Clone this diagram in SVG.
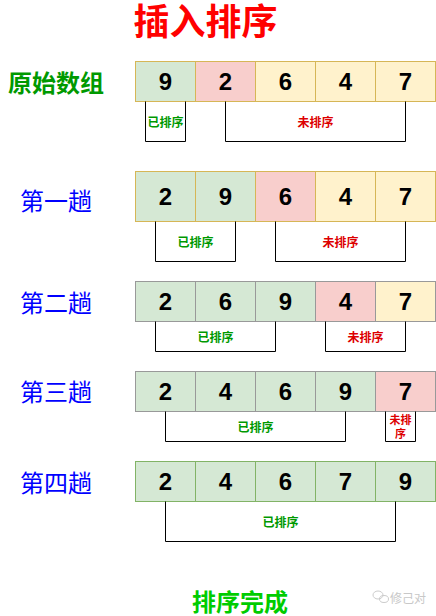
<svg xmlns="http://www.w3.org/2000/svg" width="436" height="616" viewBox="0 0 436 616">
<style>
.g{fill:#d5e8d4}.r{fill:#f8cecc}.y{fill:#fff2cc}
.n{font-family:"Liberation Sans",Arial,sans-serif;font-weight:bold;font-size:24px;fill:#000;text-anchor:middle}
.lbl{font-family:"Noto Sans CJK SC",sans-serif;font-size:24px;fill:#0000ff;text-anchor:middle;dominant-baseline:central}
.s{font-family:"Noto Sans CJK SC",sans-serif;font-size:12px;font-weight:bold;text-anchor:middle;dominant-baseline:central}
.sg{fill:#009900}.sr{fill:#dd0000}
.br{fill:none;stroke:#000;stroke-width:1}
</style>
<rect width="436" height="616" fill="#fff"/>
<text x="205.5" y="35" font-family="'Noto Sans CJK SC',sans-serif" font-weight="bold" font-size="36" fill="#ff0000" text-anchor="middle">插入排序</text>

<g id="row0">
<text class="lbl" x="56" y="81" font-weight="bold" style="fill:#009900">原始数组</text>
<g stroke="#d6b656">
<rect class="g" x="135.5" y="61.5" width="60" height="40"/>
<rect class="r" x="195.5" y="61.5" width="60" height="40"/>
<rect class="y" x="255.5" y="61.5" width="60" height="40"/>
<rect class="y" x="315.5" y="61.5" width="60" height="40"/>
<rect class="y" x="375.5" y="61.5" width="60" height="40"/>
</g>
<text class="n" x="165.5" y="90">9</text><text class="n" x="225.5" y="90">2</text><text class="n" x="285.5" y="90">6</text><text class="n" x="345.5" y="90">4</text><text class="n" x="405.5" y="90">7</text>
<text class="s sg" x="165.5" y="121">已排序</text>
<text class="s sr" x="315.5" y="121">未排序</text>
</g>

<g id="row1">
<text class="lbl" x="56" y="199">第一趟</text>
<g stroke="#d6b656">
<rect class="g" x="135.5" y="171.5" width="60" height="50"/>
<rect class="g" x="195.5" y="171.5" width="60" height="50"/>
<rect class="r" x="255.5" y="171.5" width="60" height="50"/>
<rect class="y" x="315.5" y="171.5" width="60" height="50"/>
<rect class="y" x="375.5" y="171.5" width="60" height="50"/>
</g>
<text class="n" x="165.5" y="205">2</text><text class="n" x="225.5" y="205">9</text><text class="n" x="285.5" y="205">6</text><text class="n" x="345.5" y="205">4</text><text class="n" x="405.5" y="205">7</text>
<text class="s sg" x="195.5" y="241">已排序</text>
<text class="s sr" x="340.5" y="241">未排序</text>
</g>

<g id="row2">
<text class="lbl" x="56" y="301">第二趟</text>
<g stroke="#999999">
<rect class="g" x="135.5" y="281.5" width="60" height="40"/>
<rect class="g" x="195.5" y="281.5" width="60" height="40"/>
<rect class="g" x="255.5" y="281.5" width="60" height="40"/>
<rect class="r" x="315.5" y="281.5" width="60" height="40"/>
<rect class="y" x="375.5" y="281.5" width="60" height="40"/>
</g>
<text class="n" x="165.5" y="310">2</text><text class="n" x="225.5" y="310">6</text><text class="n" x="285.5" y="310">9</text><text class="n" x="345.5" y="310">4</text><text class="n" x="405.5" y="310">7</text>
<text class="s sg" x="215.5" y="336">已排序</text>
<text class="s sr" x="365.5" y="336">未排序</text>
</g>

<g id="row3">
<text class="lbl" x="56" y="390">第三趟</text>
<g stroke="#999999">
<rect class="g" x="135.5" y="371.5" width="60" height="40"/>
<rect class="g" x="195.5" y="371.5" width="60" height="40"/>
<rect class="g" x="255.5" y="371.5" width="60" height="40"/>
<rect class="g" x="315.5" y="371.5" width="60" height="40"/>
<rect class="r" x="375.5" y="371.5" width="60" height="40"/>
</g>
<text class="n" x="165.5" y="400">2</text><text class="n" x="225.5" y="400">4</text><text class="n" x="285.5" y="400">6</text><text class="n" x="345.5" y="400">9</text><text class="n" x="405.5" y="400">7</text>
<text class="s sg" x="255.5" y="426">已排序</text>
<text class="s sr" style="font-size:11px"><tspan x="400.5" y="419">未排</tspan><tspan x="400.5" y="433">序</tspan></text>
</g>

<g id="row4">
<text class="lbl" x="56" y="481">第四趟</text>
<g stroke="#82b366">
<rect class="g" x="135.5" y="461.5" width="60" height="40"/>
<rect class="g" x="195.5" y="461.5" width="60" height="40"/>
<rect class="g" x="255.5" y="461.5" width="60" height="40"/>
<rect class="g" x="315.5" y="461.5" width="60" height="40"/>
<rect class="g" x="375.5" y="461.5" width="60" height="40"/>
</g>
<text class="n" x="165.5" y="490">2</text><text class="n" x="225.5" y="490">4</text><text class="n" x="285.5" y="490">6</text><text class="n" x="345.5" y="490">7</text><text class="n" x="405.5" y="490">9</text>
<text class="s sg" x="280.5" y="521">已排序</text>
</g>

<g id="connectors">
<path class="br" d="M145.5 101.5V141.5H185.5V101.5"/>
<path class="br" d="M225.5 101.5V141.5H405.5V101.5"/>
<path class="br" d="M155.5 221.5V261.5H235.5V221.5"/>
<path class="br" d="M275.5 221.5V261.5H405.5V221.5"/>
<path class="br" d="M155.5 321.5V351.5H275.5V321.5"/>
<path class="br" d="M325.5 321.5V351.5H405.5V321.5"/>
<path class="br" d="M165.5 411.5V441.5H345.5V411.5"/>
<path class="br" d="M385.5 411.5V441.5H415.5V411.5"/>
<path class="br" d="M165.5 501.5V541.5H395.5V501.5"/>
</g>

<text x="240" y="600" font-family="'Noto Sans CJK SC',sans-serif" font-weight="bold" font-size="24" fill="#00cc00" text-anchor="middle" dominant-baseline="central">排序完成</text>
<g id="watermark" fill="none" stroke="#cccccc" stroke-width="1">
<ellipse cx="378" cy="595" rx="5" ry="4"/>
<ellipse cx="384" cy="599" rx="4.5" ry="3.5"/>
</g>
<text x="408" y="597" font-family="'Noto Sans CJK SC',sans-serif" font-size="12" fill="#c8c8c8" text-anchor="middle" dominant-baseline="central">修己对</text>
</svg>
